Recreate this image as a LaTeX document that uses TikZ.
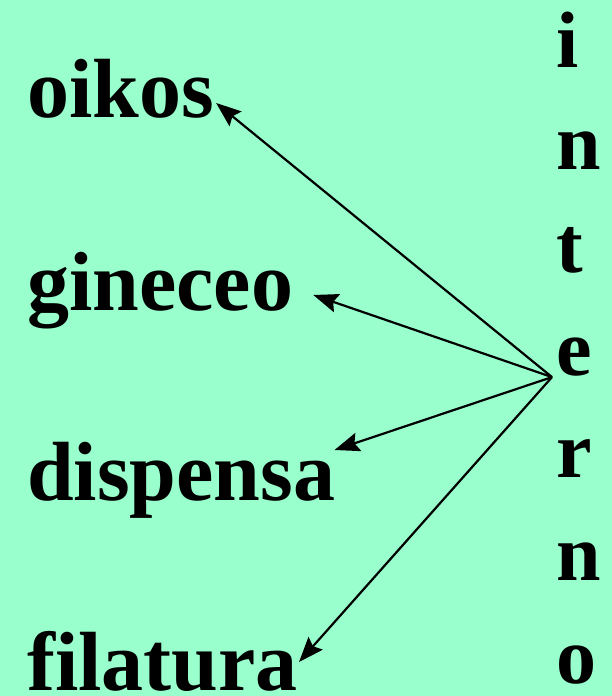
\documentclass[tikz,border=0pt]{standalone}
\usepackage{fontspec}
\setmainfont{Liberation Serif}
\usetikzlibrary{arrows.meta,positioning}
\definecolor{mint}{RGB}{153,255,204}

\begin{document}
\begin{tikzpicture}[
      x=1pt,y=-1pt,
      word/.style={
         inner sep=0pt,
         anchor=base west,
         font=\bfseries\fontsize{84}{84}\selectfont
      },
      letter/.style={
         inner sep=0pt,
         anchor=base west,
         font=\bfseries\fontsize{80}{80}\selectfont
      },
      link/.style={line width=2.2pt,-{Stealth[length=25pt,width=19pt,inset=4pt]}},
    ]
    \fill[mint] (0,0) rectangle (612,696);
    \useasboundingbox (0,0) rectangle (612,696);
    % left column
    \node (oikos)    [word] at (27,117) {oikos};
    \node (gineceo)  [word] at (27,310) {gineceo};
    \node (dispensa) [word] at (27,500) {dispensa};
    \node (filatura) [word] at (27,690) {filatura};
    % right column, one letter per line
    \foreach \l [count=\i] in {i,n,t,e,r,n,o}
       \node (v\i) [letter] at (556,{67+102.7*(\i-1)}) {\l};
    % arrow ends
    \coordinate (hub) at ([xshift=-4pt,yshift=-2pt]v4.base west);
    \coordinate (to oikos)    at ([xshift=2pt,yshift=14pt]oikos.base east);
    \coordinate (to gineceo)  at ([xshift=20pt,yshift=15pt]gineceo.base east);
    \coordinate (to dispensa) at ([xshift=-1pt,yshift=50pt]dispensa.base east);
    \coordinate (to filatura) at ([xshift=1pt,yshift=28pt]filatura.base east);
    \draw[link] (hub) -- (to oikos);
    \draw[link] (hub) -- (to gineceo);
    \draw[link] (hub) -- (to dispensa);
    \draw[link] (hub) -- (to filatura);
\end{tikzpicture}
\end{document}
